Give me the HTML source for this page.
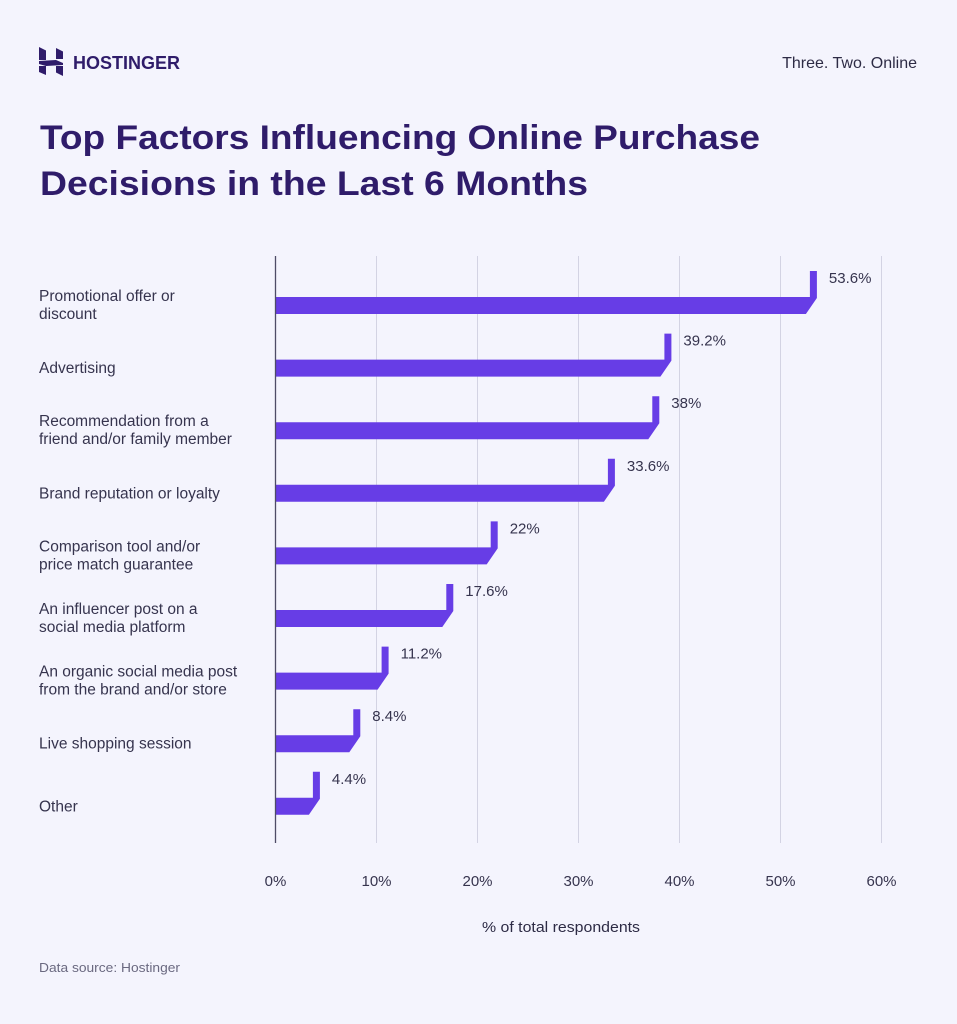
<!DOCTYPE html>
<html>
<head>
<meta charset="utf-8">
<style>
  html,body{margin:0;padding:0;background:#f4f4fd;}
  svg{display:block;}
  text{font-family:"Liberation Sans",sans-serif;}
</style>
</head>
<body>
<svg width="957" height="1024" viewBox="0 0 957 1024" xmlns="http://www.w3.org/2000/svg">
  <rect x="0" y="0" width="957" height="1024" fill="#f4f4fd"/>

  <!-- logo -->
  <g fill="#2f1c6a">
    <polygon points="39,47 46,50.5 46,60 39,60"/>
    <polygon points="56,48 63,51.5 63,59 56,59"/>
    <polygon points="39,61 56,60 63,63 63,65 46,66 39,64"/>
    <polygon points="39,66 46,66 46,75 39,72"/>
    <polygon points="56,66 63,66 63,76 56,72.5"/>
  </g>
  <text x="73" y="69" font-size="18" font-weight="bold" fill="#2f1c6a" textLength="107" lengthAdjust="spacingAndGlyphs">HOSTINGER</text>

  <text x="917" y="68" font-size="16" fill="#2d2b45" text-anchor="end">Three. Two. Online</text>

  <!-- title -->
  <text x="40" y="149" font-size="34" font-weight="bold" fill="#2f1c6a" textLength="720" lengthAdjust="spacingAndGlyphs">Top Factors Influencing Online Purchase</text>
  <text x="40" y="195" font-size="34" font-weight="bold" fill="#2f1c6a" textLength="548" lengthAdjust="spacingAndGlyphs">Decisions in the Last 6 Months</text>

  <!-- gridlines -->
  <g stroke="#d3d3e3" stroke-width="1">
    <line x1="376.5" y1="256" x2="376.5" y2="843"/>
    <line x1="477.5" y1="256" x2="477.5" y2="843"/>
    <line x1="578.5" y1="256" x2="578.5" y2="843"/>
    <line x1="679.5" y1="256" x2="679.5" y2="843"/>
    <line x1="780.5" y1="256" x2="780.5" y2="843"/>
    <line x1="881.5" y1="256" x2="881.5" y2="843"/>
  </g>

  <!-- bars -->
  <g fill="#673de6">
    <polygon points="275.5,297 809.9,297 809.9,271 816.9,271 816.9,298 805.9,314 275.5,314"/>
    <polygon points="275.5,359.6 664.4,359.6 664.4,333.6 671.4,333.6 671.4,360.6 660.4,376.6 275.5,376.6"/>
    <polygon points="275.5,422.2 652.3,422.2 652.3,396.2 659.3,396.2 659.3,423.2 648.3,439.2 275.5,439.2"/>
    <polygon points="275.5,484.8 607.9,484.8 607.9,458.8 614.9,458.8 614.9,485.8 603.9,501.8 275.5,501.8"/>
    <polygon points="275.5,547.4 490.7,547.4 490.7,521.4 497.7,521.4 497.7,548.4 486.7,564.4 275.5,564.4"/>
    <polygon points="275.5,610 446.3,610 446.3,584 453.3,584 453.3,611 442.3,627 275.5,627"/>
    <polygon points="275.5,672.6 381.6,672.6 381.6,646.6 388.6,646.6 388.6,673.6 377.6,689.6 275.5,689.6"/>
    <polygon points="275.5,735.2 353.3,735.2 353.3,709.2 360.3,709.2 360.3,736.2 349.3,752.2 275.5,752.2"/>
    <polygon points="275.5,797.8 312.9,797.8 312.9,771.8 319.9,771.8 319.9,798.8 308.9,814.8 275.5,814.8"/>
  </g>

  <!-- axis -->
  <line x1="275.5" y1="256" x2="275.5" y2="843" stroke="#4e4c66" stroke-width="1.3"/>

  <!-- value labels -->
  <g font-size="15" fill="#36344e">
    <text x="828.9" y="283">53.6%</text>
    <text x="683.4" y="345.6">39.2%</text>
    <text x="671.3" y="408.2">38%</text>
    <text x="626.9" y="470.8">33.6%</text>
    <text x="509.7" y="533.4">22%</text>
    <text x="465.3" y="596">17.6%</text>
    <text x="400.6" y="658.6">11.2%</text>
    <text x="372.3" y="721.2">8.4%</text>
    <text x="331.9" y="783.8">4.4%</text>
  </g>

  <!-- category labels -->
  <g font-size="15.5" fill="#36344e">
    <text x="39" y="301">Promotional offer or</text>
    <text x="39" y="319">discount</text>
    <text x="39" y="373.1">Advertising</text>
    <text x="39" y="426.2">Recommendation from a</text>
    <text x="39" y="444.2">friend and/or family member</text>
    <text x="39" y="498.3">Brand reputation or loyalty</text>
    <text x="39" y="551.4">Comparison tool and/or</text>
    <text x="39" y="569.4">price match guarantee</text>
    <text x="39" y="614">An influencer post on a</text>
    <text x="39" y="632">social media platform</text>
    <text x="39" y="676.6">An organic social media post</text>
    <text x="39" y="694.6">from the brand and/or store</text>
    <text x="39" y="748.7">Live shopping session</text>
    <text x="39" y="811.3">Other</text>
  </g>

  <!-- tick labels -->
  <g font-size="15" fill="#36344e" text-anchor="middle">
    <text x="275.5" y="886">0%</text>
    <text x="376.5" y="886">10%</text>
    <text x="477.5" y="886">20%</text>
    <text x="578.5" y="886">30%</text>
    <text x="679.5" y="886">40%</text>
    <text x="780.5" y="886">50%</text>
    <text x="881.5" y="886">60%</text>
  </g>

  <text x="561" y="932" font-size="15" fill="#2d2b45" text-anchor="middle" textLength="158" lengthAdjust="spacingAndGlyphs">% of total respondents</text>

  <text x="39" y="972" font-size="13" fill="#6a6980" textLength="141" lengthAdjust="spacingAndGlyphs">Data source: Hostinger</text>
</svg>
</body>
</html>
